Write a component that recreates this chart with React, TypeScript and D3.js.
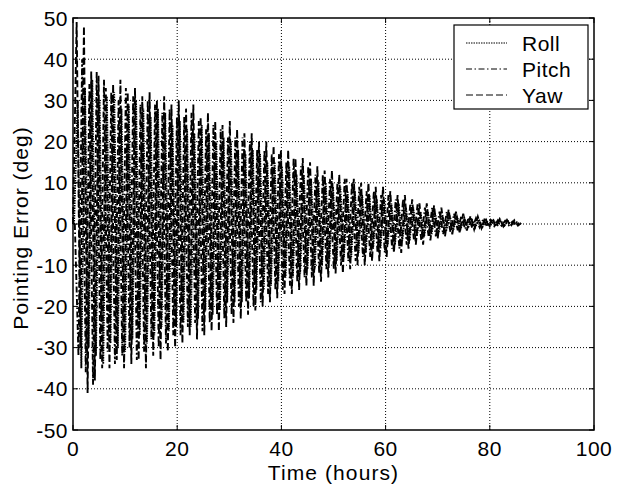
import React from 'react';
import * as d3 from 'd3';

// peak values (deg), one every half swing
const halfSwing = 0.7; // hours between successive peaks

const rollStart = 0.2;
const roll = [
  0, 30, -35, 33, -30, 35, -32, 30, -34, 31, -29, 32, -30, 28, -31,
  29, -28, 30, -27, 28, -29, 26, -27, 28, -25, 27, -26, 24, -25,
  25, -24, 23, -25, 22, -23, 24, -21, 22, -22, 20, -21, 21, -19,
  20, -19, 18, -19, 17, -18, 18, -16, 17, -16, 15, -15, 15, -14,
  14, -13, 14, -13, 12, -12, 12, -11, 11, -11, 10, -10, 10, -9,
  9, -9, 9, -8, 8, -8, 8, -7, 7, -7, 7, -6, 6, -6,
  6, -5, 5, -5, 5, -4, 4, -4, 4, -3, 3, -3, 3, -2.5,
  2.5, -2, 2.2, -1.8, 2, -1.4, 1.8, -1.2, 1.5, -1, 1.3, -0.8, 1.1, -0.7,
  1, -0.6, 0.9, -0.5, 0.8, -0.4, 0.7, -0.3, 0.6, 0.2,
];

const pitchStart = 0.35;
const pitch = [
  0, -32, 40, -36, 34, -39, 37, -33, 35, -31, 32, -34, 30, -32, 33,
  -30, 31, -33, 29, -31, 30, -28, 29, -30, 27, -29, 28, -27, 26,
  -27, 26, -25, 27, -24, 25, -26, 23, -24, 24, -22, 23, -23, 21,
  -22, 21, -20, 21, -19, 20, -20, 18, -19, 18, -17, 17, -16, 17,
  -16, 15, -15, 16, -14, 14, -13, 14, -13, 12, -12, 12, -11, 11,
  -11, 10, -10, 11, -9, 10, -9, 9, -8, 8, -8, 8, -7, 7,
  -7, 7, -6, 6, -6, 6, -5, 5, -4, 5, -4, 4, -3, 4,
  -3, 3, -2.5, 3, -2, 2.5, -1.5, 2, -1.2, 1.6, -1, 1.4, -0.8, 1.2,
  -0.6, 1, -0.5, 0.9, -0.4, 0.8, -0.3, 0.6, -0.2, 0.3,
];

const yawStart = 0;
const yaw = [
  0, 49, -30, 48, -41, 37, -38, 36, -35, 33, -35, 34, -33, 35, -35,
  32, -34, 33, -33, 31, -35, 32, -32, 30, -33, 31, -31, 29, -30,
  30, -29, 28, -27, 29, -28, 26, -27, 27, -26, 25, -26, 24, -25,
  25, -24, 23, -23, 22, -22, 22, -21, 20, -20, 20, -19, 19, -18,
  18, -17, 18, -17, 16, -16, 16, -15, 15, -15, 14, -14, 13, -13,
  13, -12, 12, -12, 11, -11, 11, -10, 10, -10, 10, -9, 9, -9,
  9, -8, 8, -7, 7, -7, 7, -6, 6, -5, 5, -5, 5, -4,
  4.5, -3.5, 4, -3, 3.5, -2.5, 3, -2, 2.5, -1.6, 2, -1.3, 1.8, -1,
  1.6, -0.8, 1.4, -0.7, 1.2, -0.6, 1, -0.5, 0.9, -0.4, 0.3,
];

const xTicks = [0, 20, 40, 60, 80, 100];
const yTicks = [-50, -40, -30, -20, -10, 0, 10, 20, 30, 40, 50];

const series = [
  { name: 'Roll', start: rollStart, values: roll, dash: '1.5,1' },
  { name: 'Pitch', start: pitchStart, values: pitch, dash: '6,2.5,1.5,2.5' },
  { name: 'Yaw', start: yawStart, values: yaw, dash: '7,3' },
];

const font = '"Liberation Sans", Arial, sans-serif';

export default function App() {
  const width = 618;
  const height = 485;
  const margin = { top: 18, right: 24, bottom: 55, left: 73 };

  const x = d3.scaleLinear().domain([0, 100]).range([margin.left, width - margin.right]);
  const y = d3.scaleLinear().domain([-50, 50]).range([height - margin.bottom, margin.top]);

  const [x0, x1] = x.range();
  const [y0, y1] = y.range();

  return (
    <svg
      width={width}
      height={height}
      style={{ position: 'absolute', left: 0, top: 0, background: '#fff' }}
      fontFamily={font}
    >
      {/* grid */}
      <g stroke="#000" strokeWidth={1} strokeDasharray="1,2">
        {xTicks.slice(1, -1).map((t) => (
          <line key={'gx' + t} x1={x(t)} x2={x(t)} y1={y1} y2={y0} />
        ))}
        {yTicks.slice(1, -1).map((t) => (
          <line key={'gy' + t} x1={x0} x2={x1} y1={y(t)} y2={y(t)} />
        ))}
      </g>

      {/* data */}
      <g fill="none" stroke="#000" strokeWidth={1.9}>
        {series.map((s) => {
          const pts = s.values.map((v, i) => [x(s.start + i * halfSwing), y(v)] as [number, number]);
          return <path key={s.name} d={d3.line()(pts) ?? ''} strokeDasharray={s.dash} />;
        })}
      </g>

      {/* frame and ticks */}
      <rect x={x0} y={y1} width={x1 - x0} height={y0 - y1} fill="none" stroke="#000" strokeWidth={1.5} />
      <g stroke="#000" strokeWidth={1}>
        {xTicks.map((t) => (
          <g key={'tx' + t}>
            <line x1={x(t)} x2={x(t)} y1={y0} y2={y0 - 5} />
            <line x1={x(t)} x2={x(t)} y1={y1} y2={y1 + 5} />
          </g>
        ))}
        {yTicks.map((t) => (
          <g key={'ty' + t}>
            <line x1={x0} x2={x0 + 5} y1={y(t)} y2={y(t)} />
            <line x1={x1} x2={x1 - 5} y1={y(t)} y2={y(t)} />
          </g>
        ))}
      </g>

      {/* tick labels */}
      <g fontSize={21} fill="#000" letterSpacing={0.5}>
        {xTicks.map((t) => (
          <text key={'lx' + t} x={x(t)} y={y0 + 26} textAnchor="middle">
            {t}
          </text>
        ))}
        {yTicks.map((t) => (
          <text key={'ly' + t} x={x0 - 5} y={y(t) + 7.5} textAnchor="end">
            {t}
          </text>
        ))}
      </g>

      {/* axis titles */}
      <text x={(x0 + x1) / 2} y={480} textAnchor="middle" fontSize={21} letterSpacing={1.1}>
        Time (hours)
      </text>
      <text
        transform={`translate(28, 228) rotate(-90)`}
        textAnchor="middle"
        fontSize={21}
        letterSpacing={1}
      >
        Pointing Error (deg)
      </text>

      {/* legend */}
      <g>
        <rect x={454} y={25} width={134} height={84} fill="#fff" stroke="#000" strokeWidth={1.2} />
        {series.map((s, i) => (
          <g key={'lg' + s.name}>
            <line
              x1={466}
              x2={507}
              y1={43 + i * 26}
              y2={43 + i * 26}
              stroke="#000"
              strokeWidth={1}
              strokeDasharray={s.dash}
            />
            <text x={522} y={43 + i * 26 + 8} fontSize={21} letterSpacing={0.5}>
              {s.name}
            </text>
          </g>
        ))}
      </g>
    </svg>
  );
}
